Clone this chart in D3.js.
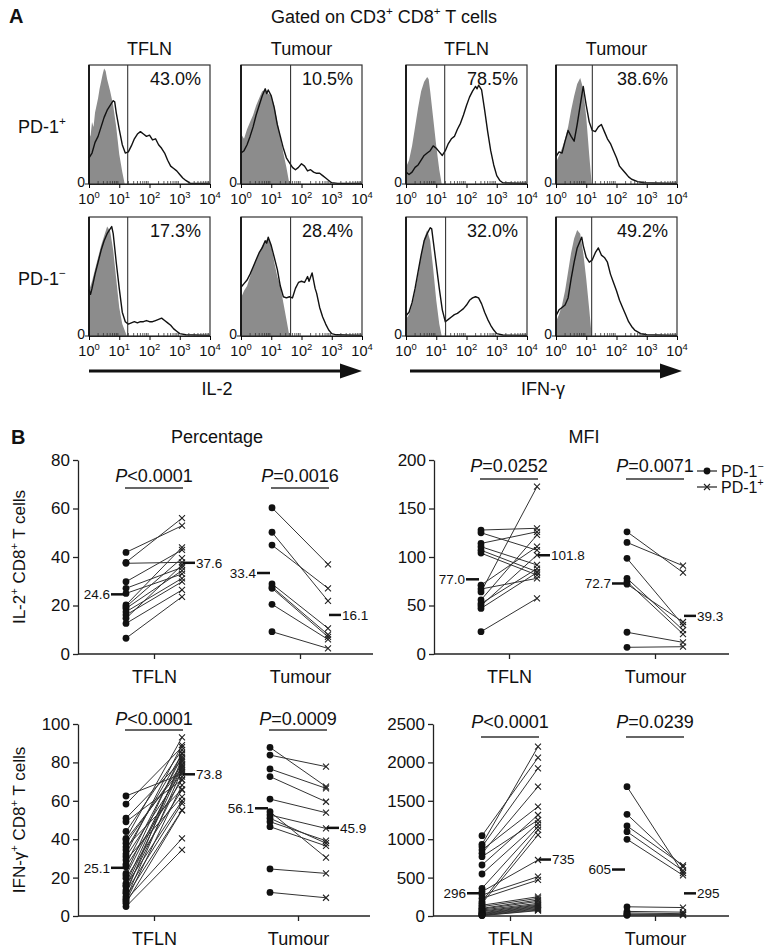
<!DOCTYPE html>
<html><head><meta charset="utf-8">
<script src="https://cdn.jsdelivr.net/npm/d3@7"></script>
<style>
body{margin:0;background:#fff}
svg{display:block}
text{font-family:"Liberation Sans",Arial,Helvetica,sans-serif;fill:#111}
</style>
</head><body><svg id="c" width="768" height="949"></svg>
<script>
// ---------------- DATA ----------------
// Panel A: histograms, points are [log10 fluorescence, % of max count]
const histCols = ["TFLN", "Tumour", "TFLN", "Tumour"];
const histRows = ["+", "\u2212"]; // PD-1 superscripts
const histPct = [["43.0%", "10.5%", "78.5%", "38.6%"], ["17.3%", "28.4%", "32.0%", "49.2%"]];
const histGate = [[1.28, 1.64, 1.28, 1.2], [1.28, 1.64, 1.31, 1.18]];
const histTicks = [0, 1, 2, 3, 4];

const h1Ctrl = [[0,44],[0.05,40],[0.1,52],[0.15,48],[0.2,60],[0.3,72],[0.35,80],[0.4,86],[0.45,92],[0.5,97],[0.55,95],[0.6,88],[0.7,78],[0.8,66],[0.9,48],[1.0,25],[1.1,10],[1.18,0]];
const h1Stain = [[0,22],[0.1,26],[0.2,35],[0.3,40],[0.4,48],[0.5,56],[0.6,62],[0.7,66],[0.8,70],[0.85,69],[0.9,60],[1.0,46],[1.1,33],[1.2,26],[1.3,27],[1.4,32],[1.5,38],[1.6,42],[1.7,44],[1.8,42],[1.9,40],[2.0,41],[2.1,37],[2.2,38],[2.3,33],[2.4,30],[2.5,26],[2.6,20],[2.7,15],[2.8,13],[2.9,11],[3.0,8],[3.1,5],[3.2,3],[3.35,0.5],[4,0.5]];
const h2Ctrl = [[0,42],[0.1,38],[0.2,46],[0.3,52],[0.4,58],[0.5,66],[0.6,72],[0.7,78],[0.8,79],[0.9,76],[1.0,74],[1.1,66],[1.2,52],[1.3,40],[1.4,26],[1.5,14],[1.6,0]];
const h2Stain = [[0,26],[0.1,28],[0.2,33],[0.3,40],[0.4,48],[0.5,58],[0.6,66],[0.7,74],[0.8,80],[0.85,76],[0.9,79],[1.0,74],[1.1,64],[1.2,50],[1.3,40],[1.4,30],[1.5,22],[1.6,18],[1.7,14],[1.8,12],[1.9,14],[2.0,17],[2.1,15],[2.2,11],[2.3,12],[2.4,10],[2.5,9],[2.6,9],[2.7,7],[2.8,5],[2.9,3],[3.0,1],[3.2,0.5],[4,0.5]];
const h3Ctrl = [[0,14],[0.1,20],[0.2,32],[0.3,48],[0.4,64],[0.5,78],[0.6,86],[0.7,90],[0.75,88],[0.8,78],[0.9,55],[1.0,32],[1.1,12],[1.18,0]];
const h3Stain = [[0,10],[0.1,8],[0.2,10],[0.3,14],[0.4,16],[0.5,20],[0.6,24],[0.7,26],[0.8,28],[0.9,32],[1.0,30],[1.1,27],[1.2,24],[1.3,28],[1.4,34],[1.5,38],[1.6,40],[1.7,46],[1.8,51],[1.9,58],[2.0,66],[2.1,73],[2.2,78],[2.3,82],[2.35,80],[2.4,83],[2.5,79],[2.6,62],[2.7,44],[2.8,28],[2.9,16],[3.0,7],[3.1,3],[3.2,1],[4,0.5]];
const h4Ctrl = [[0,18],[0.1,24],[0.2,30],[0.3,38],[0.4,48],[0.5,62],[0.6,74],[0.7,84],[0.8,89],[0.9,80],[1.0,56],[1.1,24],[1.18,0]];
const h4Stain = [[0,23],[0.1,27],[0.2,26],[0.3,36],[0.4,45],[0.5,40],[0.6,36],[0.7,50],[0.8,66],[0.9,82],[1.0,66],[1.1,52],[1.2,45],[1.3,44],[1.4,48],[1.5,50],[1.6,44],[1.7,38],[1.8,34],[1.9,28],[2.0,22],[2.1,15],[2.2,12],[2.3,9],[2.4,6],[2.5,4],[2.7,2],[2.9,1],[3.2,0.8],[4,0.5]];
const h5Ctrl = [[0,38],[0.1,46],[0.2,56],[0.3,66],[0.4,76],[0.5,84],[0.6,92],[0.7,88],[0.8,72],[0.9,48],[1.0,24],[1.1,10],[1.25,0]];
const h5Stain = [[0,39],[0.05,35],[0.1,40],[0.2,52],[0.3,62],[0.4,72],[0.5,80],[0.6,86],[0.7,90],[0.75,92],[0.8,86],[0.9,62],[1.0,40],[1.1,20],[1.2,12],[1.3,10],[1.4,11],[1.5,12],[1.6,11],[1.7,12],[1.8,12],[1.9,13],[2.0,12],[2.1,12],[2.2,13],[2.3,14],[2.4,15],[2.5,13],[2.6,11],[2.7,9],[2.8,6],[2.9,4],[3.0,2],[3.2,1],[4,0.5]];
const h6Ctrl = [[0,32],[0.1,38],[0.2,42],[0.3,50],[0.4,58],[0.5,64],[0.6,70],[0.7,76],[0.8,80],[0.9,82],[1.0,76],[1.1,62],[1.2,50],[1.3,42],[1.4,28],[1.5,14],[1.6,0]];
const h6Stain = [[0,41],[0.1,44],[0.2,47],[0.3,52],[0.4,58],[0.5,64],[0.6,70],[0.7,74],[0.8,80],[0.85,78],[0.9,83],[1.0,76],[1.1,66],[1.2,56],[1.3,42],[1.4,33],[1.5,32],[1.6,33],[1.7,32],[1.8,40],[1.9,45],[2.0,46],[2.1,45],[2.2,50],[2.25,46],[2.35,53],[2.45,40],[2.5,36],[2.6,24],[2.7,16],[2.8,10],[2.9,5],[3.0,2],[3.15,1],[4,0.5]];
const h7Ctrl = [[0,14],[0.1,18],[0.2,26],[0.3,38],[0.4,52],[0.5,68],[0.6,82],[0.7,89],[0.8,80],[0.9,56],[1.0,30],[1.1,10],[1.18,0]];
const h7Stain = [[0,17],[0.1,20],[0.2,28],[0.3,40],[0.4,54],[0.5,68],[0.6,80],[0.7,86],[0.8,91],[0.85,90],[0.9,80],[1.0,60],[1.1,40],[1.2,22],[1.3,12],[1.4,14],[1.5,16],[1.6,18],[1.7,19],[1.8,21],[1.9,23],[2.0,26],[2.1,30],[2.2,32],[2.3,33],[2.4,32],[2.5,27],[2.6,20],[2.7,14],[2.8,9],[2.9,5],[3.0,2],[3.2,0.8],[4,0.5]];
const h8Ctrl = [[0,12],[0.1,18],[0.2,26],[0.3,38],[0.4,54],[0.5,70],[0.6,82],[0.7,89],[0.8,86],[0.9,70],[1.0,48],[1.1,22],[1.18,0]];
const h8Stain = [[0,17],[0.1,22],[0.2,24],[0.3,26],[0.4,32],[0.5,48],[0.6,62],[0.7,74],[0.8,80],[0.85,83],[0.9,76],[1.0,66],[1.1,62],[1.2,64],[1.3,70],[1.4,74],[1.5,68],[1.6,66],[1.7,62],[1.8,52],[1.9,45],[2.0,38],[2.1,30],[2.2,24],[2.3,18],[2.4,12],[2.5,8],[2.6,5],[2.8,2],[3.0,1],[4,0.5]];

// Panel B: paired values (PD-1- , PD-1+)
const cats = ["TFLN", "Tumour"];
const il2PctTflnNeg = [41.9, 37.8, 37.4, 29.8, 27.1, 25.0, 20.2, 19.5, 18.8, 17.4, 16.1, 14.7, 12.6, 6.5];
const il2PctTflnPos = [52.9, 56.0, 37.8, 42.9, 35.7, 33.0, 44.0, 39.5, 34.4, 31.2, 29.8, 36.7, 26.4, 23.6];
const il2PctTumNeg = [60.3, 50.2, 44.9, 28.9, 27.7, 27.1, 20.5, 9.2];
const il2PctTumPos = [37.0, 21.9, 27.1, 10.6, 8.0, 7.1, 6.0, 2.3];
const il2PctMeans = [24.6, 37.6, 33.4, 16.1];
const il2PctP = ["<0.0001", "=0.0016"];
const il2PctTicks = [0, 20, 40, 60, 80];

const il2MfiTflnNeg = [127.8, 125, 114, 110.6, 107, 104, 71, 67, 64, 55.7, 52, 49.8, 47, 23];
const il2MfiTflnPos = [129.6, 107, 126, 91.8, 84.8, 81.4, 110.6, 78, 172.5, 122.7, 88, 102, 84, 57.4];
const il2MfiTumNeg = [126, 115, 98.6, 78, 74.5, 72, 22.4, 6.9];
const il2MfiTumPos = [84, 91, 29.9, 24.7, 20.6, 33, 12, 7.5];
const il2MfiMeans = [77.0, 101.8, 72.7, 39.3];
const il2MfiP = ["=0.0252", "=0.0071"];
const il2MfiTicks = [0, 50, 100, 150, 200];

const ifnPctTflnNeg = [62.5, 58.3, 50.9, 49.1, 44, 40.4, 39.6, 37.9, 36, 34.4, 32.3, 30.9, 29.2, 27, 25.7, 22.2, 21, 19.6, 17, 16, 15.3, 13.5, 12.5, 11.8, 10.1, 9, 8.3, 7.5, 6.6, 4.9];
const ifnPctTflnPos = [74, 88, 81, 71, 86.5, 93, 77, 79, 66, 84.4, 89, 75, 62.1, 83, 70.8, 85, 78.5, 65.6, 80.4, 60, 77.8, 72.6, 58.7, 82, 55.2, 76, 40.4, 68.2, 55, 34.4];
const ifnPctTumNeg = [87.8, 83.8, 76.6, 72.6, 60.9, 54.3, 52.6, 50.9, 49.1, 46.5, 24.5, 12.3];
const ifnPctTumPos = [67.4, 77.8, 66.5, 59.5, 53.8, 30.4, 45.6, 37.9, 39.2, 36.5, 22.2, 9.5];
const ifnPctMeans = [25.1, 73.8, 56.1, 45.9];
const ifnPctP = ["<0.0001", "=0.0009"];
const ifnPctTicks = [0, 20, 40, 60, 80, 100];

const ifnMfiTflnNeg = [1046, 933, 903, 859, 816, 772, 664, 547, 361, 317, 273, 230, 190, 165, 140, 122, 100, 90, 78, 65, 55, 43, 35, 28, 20, 13, 8, 5];
const ifnMfiTflnPos = [2061, 2205, 1923, 1424, 1684, 1250, 1315, 1207, 1163, 729, 512, 469, 1120, 1055, 251, 230, 208, 190, 165, 150, 140, 130, 120, 110, 100, 90, 78, 70];
const ifnMfiTumNeg = [1684, 1324, 1172, 1098, 999, 120, 60, 40, 25, 15, 10];
const ifnMfiTumPos = [560, 640, 660, 590, 530, 110, 50, 30, 20, 15, 10];
const ifnMfiMeans = [296, 735, 605, 295];
const ifnMfiP = ["<0.0001", "=0.0239"];
const ifnMfiTicks = [0, 500, 1000, 1500, 2000, 2500];

// ---------------- DRAWING ----------------
const svg = d3.select("#c");
const FONT = '"Liberation Sans", Arial, Helvetica, sans-serif';

function richText(g, x, y, parts, size, anchor) {
  const t = g.append("text").attr("x", x).attr("y", y)
    .attr("font-size", size).attr("text-anchor", anchor || "start");
  let raised = false;
  parts.forEach(p => {
    const s = typeof p === "string" ? {t: p} : p;
    const ts = t.append("tspan").text(s.t);
    if (s.sup && !raised) { ts.attr("dy", -size * 0.42); raised = true; }
    else if (!s.sup && raised) { ts.attr("dy", size * 0.42); raised = false; }
    if (s.sup) ts.attr("font-size", size * 0.65);
    if (s.it) ts.attr("font-style", "italic");
  });
  return t;
}

// Panel A
svg.append("text").attr("x", 9).attr("y", 23).attr("font-size", 20).attr("font-weight", "bold").text("A");
richText(svg, 384, 23, ["Gated on CD3", {t: "+", sup: true}, " CD8", {t: "+", sup: true}, " T cells"], 18, "middle");

const histX0 = [89, 241, 406, 556], histY0 = [65, 217], HW = 121, HH = 119;
const histCtrl = [[h1Ctrl, h2Ctrl, h3Ctrl, h4Ctrl], [h5Ctrl, h6Ctrl, h7Ctrl, h8Ctrl]];
const histStain = [[h1Stain, h2Stain, h3Stain, h4Stain], [h5Stain, h6Stain, h7Stain, h8Stain]];

histCols.forEach((c, i) => {
  svg.append("text").attr("x", histX0[i] + HW / 2).attr("y", 55).attr("font-size", 18)
    .attr("text-anchor", "middle").text(c);
});
histRows.forEach((r, j) => {
  richText(svg, 18, histY0[j] + 68, ["PD-1", {t: r, sup: true}], 18, "start");
});

for (let j = 0; j < 2; j++) {
  for (let i = 0; i < 4; i++) {
    const bx = histX0[i], by = histY0[j];
    const x = d3.scaleLinear().domain([0, 4]).range([bx, bx + HW]);
    const y = d3.scaleLinear().domain([0, 100]).range([by + HH, by]);
    const g = svg.append("g");
    g.append("path").datum(histCtrl[j][i])
      .attr("d", d3.area().x(d => x(d[0])).y0(y(0)).y1(d => y(d[1])))
      .attr("fill", "#8c8c8c");
    g.append("path").datum(histStain[j][i])
      .attr("d", d3.line().x(d => x(d[0])).y(d => y(d[1])))
      .attr("fill", "none").attr("stroke", "#111").attr("stroke-width", 1.4)
      .attr("stroke-linejoin", "round");
    g.append("line").attr("x1", x(histGate[j][i])).attr("x2", x(histGate[j][i]))
      .attr("y1", by).attr("y2", by + HH).attr("stroke", "#222").attr("stroke-width", 1);
    g.append("rect").attr("x", bx).attr("y", by).attr("width", HW).attr("height", HH)
      .attr("fill", "none").attr("stroke", "#333").attr("stroke-width", 1.2);
    g.append("line").attr("x1", bx).attr("x2", bx).attr("y1", by).attr("y2", by + HH)
      .attr("stroke", "#111").attr("stroke-width", 1.8);
    // axis
    const ax = g.append("g").attr("transform", `translate(0,${by + HH})`)
      .call(d3.axisBottom(x).tickValues(histTicks).tickSize(4).tickSizeOuter(0).tickFormat(""));
    ax.select(".domain").attr("stroke", "#222");
    for (let d = 0; d < 4; d++) for (let k = 2; k <= 9; k++) {
      const v = d + Math.log10(k);
      g.append("line").attr("x1", x(v)).attr("x2", x(v)).attr("y1", by + HH).attr("y2", by + HH - 3)
        .attr("stroke", "#333").attr("stroke-width", 0.8);
    }
    histTicks.forEach(v => {
      richText(g, x(v), by + HH + 20, ["10", {t: String(v), sup: true}], 14.5, "middle");
    });
    g.append("line").attr("x1", bx - 4).attr("x2", bx).attr("y1", by + HH).attr("y2", by + HH)
      .attr("stroke", "#222");
    g.append("text").attr("x", bx - 4).attr("y", by + HH + 3).attr("font-size", 14)
      .attr("text-anchor", "end").text("0");
    g.append("text").attr("x", bx + HW - 9).attr("y", by + 20).attr("font-size", 18)
      .attr("text-anchor", "end").text(histPct[j][i]);
  }
}

// arrows
function arrow(x1, x2, yy) {
  svg.append("line").attr("x1", x1).attr("x2", x2 - 18).attr("y1", yy).attr("y2", yy)
    .attr("stroke", "#111").attr("stroke-width", 3);
  svg.append("path").attr("d", `M${x2 - 22},${yy - 7.5}L${x2},${yy}L${x2 - 22},${yy + 7.5}Z`).attr("fill", "#111");
}
arrow(89, 362, 371);
arrow(410, 682, 371);
svg.append("text").attr("x", 217).attr("y", 395).attr("font-size", 18).attr("text-anchor", "middle").text("IL-2");
svg.append("text").attr("x", 543).attr("y", 395).attr("font-size", 18).attr("text-anchor", "middle").text("IFN-\u03b3");

// Panel B
svg.append("text").attr("x", 11).attr("y", 444).attr("font-size", 20).attr("font-weight", "bold").text("B");
svg.append("text").attr("x", 217).attr("y", 443).attr("font-size", 18).attr("text-anchor", "middle").text("Percentage");
svg.append("text").attr("x", 584).attr("y", 443).attr("font-size", 18).attr("text-anchor", "middle").text("MFI");

function scatter(o) {
  const y = d3.scaleLinear().domain([0, o.max]).range([o.yb, o.yt]);
  const x = d3.scalePoint().domain(cats).range(o.centers);
  const g = svg.append("g");
  const ya = g.append("g").attr("transform", `translate(${o.x0},0)`)
    .call(d3.axisLeft(y).tickValues(o.ticks).tickFormat(d3.format("d")).tickSize(5).tickSizeOuter(0).tickPadding(3));
  ya.attr("font-family", FONT).attr("font-size", 17);
  ya.selectAll("text").attr("fill", "#111");
  ya.selectAll("line,path").attr("stroke", "#222").attr("stroke-width", 1.3);
  const xa = g.append("g").attr("transform", `translate(0,${o.yb})`)
    .call(d3.axisBottom(x).tickSize(5).tickSizeOuter(0).tickPadding(11));
  xa.select(".domain").remove();
  xa.attr("font-family", FONT).attr("font-size", 18);
  xa.selectAll("text").attr("fill", "#111");
  xa.selectAll("line").attr("stroke", "#222").attr("stroke-width", 1.3);
  g.append("line").attr("x1", o.x0).attr("x2", o.x1).attr("y1", o.yb).attr("y2", o.yb)
    .attr("stroke", "#222").attr("stroke-width", 1.3);

  const fmt = o.fmt;
  [o.tfln, o.tum].forEach((pair, ci) => {
    const cx = x(cats[ci]);
    const xn = cx - o.off, xp = cx + o.off;
    const [neg, pos] = pair;
    neg.forEach((v, k) => {
      g.append("line").attr("x1", xn).attr("x2", xp).attr("y1", y(v)).attr("y2", y(pos[k]))
        .attr("stroke", "#333").attr("stroke-width", 1);
    });
    neg.forEach(v => {
      g.append("circle").attr("cx", xn).attr("cy", y(v)).attr("r", 3.4).attr("fill", "#111");
    });
    pos.forEach(v => {
      const s = 3;
      g.append("path").attr("d", `M${xp - s},${y(v) - s}L${xp + s},${y(v) + s}M${xp - s},${y(v) + s}L${xp + s},${y(v) - s}`)
        .attr("stroke", "#222").attr("stroke-width", 1.1);
    });
    // means
    const mN = o.means[ci * 2], mP = o.means[ci * 2 + 1];
    g.append("line").attr("x1", xn - 15).attr("x2", xn - 2).attr("y1", y(mN)).attr("y2", y(mN))
      .attr("stroke", "#111").attr("stroke-width", 2.5);
    g.append("text").attr("x", xn - 16).attr("y", y(mN)).attr("dy", "0.35em").attr("font-size", 13.5)
      .attr("text-anchor", "end").attr("fill", "#222").text(fmt(mN));
    g.append("line").attr("x1", xp + 1).attr("x2", xp + 13).attr("y1", y(mP)).attr("y2", y(mP))
      .attr("stroke", "#111").attr("stroke-width", 2.5);
    g.append("text").attr("x", xp + 14).attr("y", y(mP)).attr("dy", "0.35em").attr("font-size", 13.5)
      .attr("text-anchor", "start").attr("fill", "#222").text(fmt(mP));
    // P value
    richText(g, cx, o.pBase, [{t: "P", it: true}, o.p[ci]], 18, "middle");
    g.append("line").attr("x1", xn - 1).attr("x2", xp + 1).attr("y1", o.pLine).attr("y2", o.pLine)
      .attr("stroke", "#333").attr("stroke-width", 1.6);
  });
  if (o.ylab) {
    richText(g.append("g").attr("transform", `translate(25,${(o.yt + o.yb) / 2}) rotate(-90)`),
      0, 0, o.ylab, 17, "middle");
  }
  return g;
}

scatter({x0: 78, x1: 373, yt: 460, yb: 654, max: 80, ticks: il2PctTicks, centers: [154, 300], off: 28,
  tfln: [il2PctTflnNeg, il2PctTflnPos], tum: [il2PctTumNeg, il2PctTumPos], means: il2PctMeans,
  fmt: d3.format(".1f"), p: il2PctP, pBase: 482, pLine: 488,
  ylab: ["IL-2", {t: "+", sup: true}, " CD8", {t: "+", sup: true}, " T cells"]});
scatter({x0: 434, x1: 729, yt: 460, yb: 654, max: 200, ticks: il2MfiTicks, centers: [509, 655], off: 28,
  tfln: [il2MfiTflnNeg, il2MfiTflnPos], tum: [il2MfiTumNeg, il2MfiTumPos], means: il2MfiMeans,
  fmt: d3.format(".1f"), p: il2MfiP, pBase: 472, pLine: 479});
scatter({x0: 78, x1: 370, yt: 724, yb: 916, max: 100, ticks: ifnPctTicks, centers: [154, 298], off: 28,
  tfln: [ifnPctTflnNeg, ifnPctTflnPos], tum: [ifnPctTumNeg, ifnPctTumPos], means: ifnPctMeans,
  fmt: d3.format(".1f"), p: ifnPctP, pBase: 725, pLine: 730,
  ylab: ["IFN-\u03b3", {t: "+", sup: true}, " CD8", {t: "+", sup: true}, " T cells"]});
scatter({x0: 433, x1: 729, yt: 724, yb: 916, max: 2500, ticks: ifnMfiTicks, centers: [510, 655], off: 28,
  tfln: [ifnMfiTflnNeg, ifnMfiTflnPos], tum: [ifnMfiTumNeg, ifnMfiTumPos], means: ifnMfiMeans,
  fmt: d3.format("d"), p: ifnMfiP, pBase: 728, pLine: 737});

// legend
const leg = svg.append("g");
leg.append("line").attr("x1", 697).attr("x2", 717).attr("y1", 471).attr("y2", 471).attr("stroke", "#222").attr("stroke-width", 1.2);
leg.append("circle").attr("cx", 707).attr("cy", 471).attr("r", 3.4).attr("fill", "#111");
richText(leg, 721, 477, ["PD-1", {t: "\u2212", sup: true}], 16, "start");
leg.append("line").attr("x1", 697).attr("x2", 717).attr("y1", 487).attr("y2", 487).attr("stroke", "#222").attr("stroke-width", 1.2);
leg.append("path").attr("d", "M704,484L710,490M704,490L710,484").attr("stroke", "#222").attr("stroke-width", 1.1);
richText(leg, 721, 493, ["PD-1", {t: "+", sup: true}], 16, "start");
</script></body></html>
